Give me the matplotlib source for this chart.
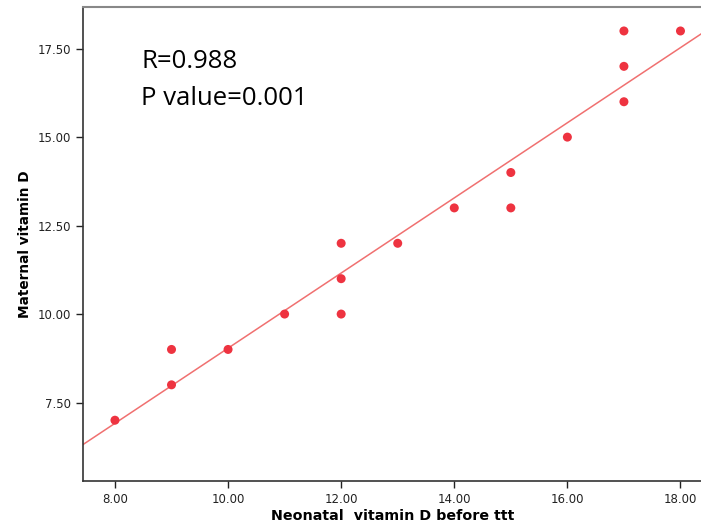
import numpy as np
import matplotlib
matplotlib.use("Agg")
import matplotlib.pyplot as plt

# neonatal vitamin D before treatment vs maternal vitamin D
neonatal = [8, 9, 9, 10, 11, 12, 12, 12, 13, 14, 15, 15, 16, 17, 17, 17, 18]
maternal = [7, 8, 9, 9, 10, 10, 11, 12, 12, 13, 13, 14, 15, 16, 17, 18, 18]
x_ticks = [8, 10, 12, 14, 16, 18]
y_ticks = [7.5, 10, 12.5, 15, 17.5]

fig = plt.figure(figsize=(7.01, 5.31), dpi=100)
ax = fig.add_axes([0.118, 0.094, 0.885, 0.893])

ax.scatter(neonatal, maternal, s=42, color="#ee3340", edgecolors="none", zorder=3)

# fit line
slope, intercept = np.polyfit(neonatal, maternal, 1)
xl = np.array([7.43, 18.4])
ax.plot(xl, slope * xl + intercept, color="#f07070", lw=1.1, zorder=2)

ax.set_xlim(7.43, 18.4)
ax.set_ylim(5.28, 18.68)
ax.set_xticks(x_ticks)
ax.set_xticklabels(["%.2f" % v for v in x_ticks])
ax.set_yticks(y_ticks)
ax.set_yticklabels(["%.2f" % v for v in y_ticks])
ax.tick_params(labelsize=8.5, colors="#222222", length=5, width=1)

ax.spines["right"].set_visible(False)
ax.spines["top"].set_color("#888888")
ax.spines["top"].set_linewidth(1.5)
for s in ["left", "bottom"]:
    ax.spines[s].set_color("#333333")
    ax.spines[s].set_linewidth(1.2)

ax.set_xlabel("Neonatal  vitamin D before ttt", fontsize=10.3, fontweight="bold", labelpad=2)
ax.set_ylabel("Maternal vitamin D", fontsize=9.8, fontweight="bold", labelpad=4)

ax.text(0.094, 0.871, "R=0.988", transform=ax.transAxes, fontsize=18.5, family="Open Sans", va="baseline")
ax.text(0.094, 0.793, "P value=0.001", transform=ax.transAxes, fontsize=18.5, family="Open Sans", va="baseline")

fig.savefig("out.png", dpi=100)
